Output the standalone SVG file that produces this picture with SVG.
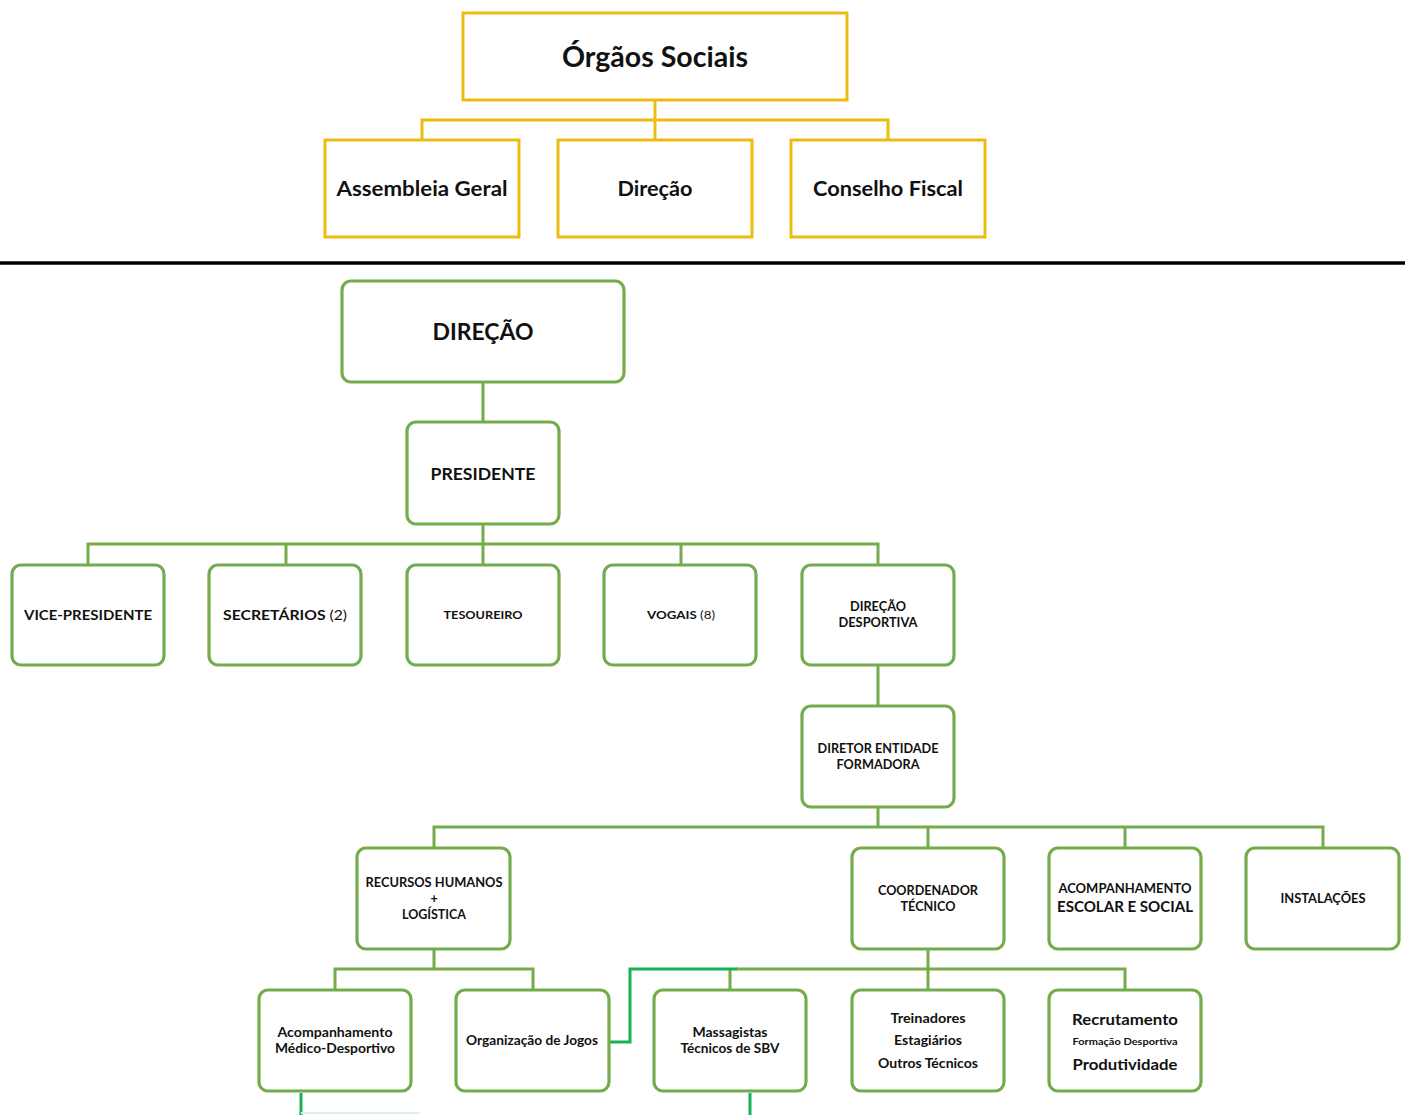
<svg xmlns="http://www.w3.org/2000/svg" width="1405" height="1115" viewBox="0 0 1405 1115">
<style>
.y{fill:#fff;stroke:#EDBC13;stroke-width:3}
.g{fill:#fff;stroke:#74AC4C;stroke-width:3.2}
.cy{fill:none;stroke:#EDBC13;stroke-width:3}
.cg{fill:none;stroke:#74AC4C;stroke-width:3}
.cb{fill:none;stroke:#14B155;stroke-width:3}
text{font-family:Lato,"Liberation Sans",sans-serif;font-weight:bold;fill:#111;text-anchor:middle;dominant-baseline:central}
</style>
<rect x="0" y="0" width="1405" height="1115" fill="#fff"/>
<g id="connectors">
<path class="cy" d="M655 100V120M422 140V120H888V140M655 120V140"/>
<path class="cg" d="M483 382V422M483 524V565M88 565V544H878V565M286 544V565M681 544V565"/>
<path class="cg" d="M878 665V706M878 807V827M434 848V827H1323V848M928 827V848M1125 827V848"/>
<path class="cg" d="M434 949V969M335 990V969H533V990"/>
<path class="cg" d="M928 949V990M736 969H1125V990M730 969V990"/>
<path class="cb" d="M598 1042H630V969H737"/>
<path class="cb" d="M301 1093V1115M750 1093V1115"/>
<path d="M301 1113H420" stroke="#DDF2E2" stroke-width="2" fill="none"/>
</g>
<line x1="0" y1="263" x2="1405" y2="263" stroke="#000" stroke-width="3.5"/>
<g id="orgaos-sociais"><rect class="y" x="463" y="13" width="384" height="87"/><text x="655" y="56" font-size="28" textLength="186" lengthAdjust="spacingAndGlyphs">Órgãos Sociais</text></g>
<g id="assembleia-geral"><rect class="y" x="325" y="140" width="194" height="97"/><text x="422" y="187" font-size="21" textLength="171" lengthAdjust="spacingAndGlyphs">Assembleia Geral</text></g>
<g id="direcao-os"><rect class="y" x="558" y="140" width="194" height="97"/><text x="655" y="187" font-size="21" textLength="75" lengthAdjust="spacingAndGlyphs">Direção</text></g>
<g id="conselho-fiscal"><rect class="y" x="791" y="140" width="194" height="97"/><text x="888" y="187" font-size="21" textLength="150" lengthAdjust="spacingAndGlyphs">Conselho Fiscal</text></g>

<g id="direcao"><rect class="g" x="342" y="281" width="282" height="101" rx="9"/><text x="483" y="331" font-size="23" textLength="101" lengthAdjust="spacingAndGlyphs">DIREÇÃO</text></g>
<g id="presidente"><rect class="g" x="407" y="422" width="152" height="102" rx="9"/><text x="483" y="473" font-size="17" textLength="105" lengthAdjust="spacingAndGlyphs">PRESIDENTE</text></g>
<g id="vice-presidente"><rect class="g" x="12" y="565" width="152" height="100" rx="9"/><text x="88" y="614" font-size="14" textLength="128" lengthAdjust="spacingAndGlyphs">VICE-PRESIDENTE</text></g>
<g id="secretarios"><rect class="g" x="209" y="565" width="152" height="100" rx="9"/><text x="285" y="614" font-size="14" textLength="124" lengthAdjust="spacingAndGlyphs">SECRETÁRIOS <tspan font-weight="normal">(2)</tspan></text></g>
<g id="tesoureiro"><rect class="g" x="407" y="565" width="152" height="100" rx="9"/><text x="483" y="614" font-size="11" textLength="79" lengthAdjust="spacingAndGlyphs">TESOUREIRO</text></g>
<g id="vogais"><rect class="g" x="604" y="565" width="152" height="100" rx="9"/><text x="681" y="614" font-size="12" textLength="68" lengthAdjust="spacingAndGlyphs">VOGAIS <tspan font-weight="normal">(8)</tspan></text></g>
<g id="direcao-desportiva"><rect class="g" x="802" y="565" width="152" height="100" rx="9"/><text x="878" y="606" font-size="12.5" textLength="56" lengthAdjust="spacingAndGlyphs">DIREÇÃO</text><text x="878" y="622" font-size="12.5" textLength="79" lengthAdjust="spacingAndGlyphs">DESPORTIVA</text></g>
<g id="diretor-entidade"><rect class="g" x="802" y="706" width="152" height="101" rx="9"/><text x="878" y="748" font-size="12.5" textLength="121" lengthAdjust="spacingAndGlyphs">DIRETOR ENTIDADE</text><text x="878" y="764" font-size="12.5" textLength="83" lengthAdjust="spacingAndGlyphs">FORMADORA</text></g>

<g id="recursos-humanos"><rect class="g" x="357" y="848" width="153" height="101" rx="9"/><text x="434" y="882" font-size="12.5" textLength="137" lengthAdjust="spacingAndGlyphs">RECURSOS HUMANOS</text><text x="434" y="898" font-size="12.5">+</text><text x="434" y="914" font-size="12.5" textLength="64" lengthAdjust="spacingAndGlyphs">LOGÍSTICA</text></g>
<g id="coordenador-tecnico"><rect class="g" x="852" y="848" width="152" height="101" rx="9"/><text x="928" y="890" font-size="12.5" textLength="100" lengthAdjust="spacingAndGlyphs">COORDENADOR</text><text x="928" y="906" font-size="12.5" textLength="55" lengthAdjust="spacingAndGlyphs">TÉCNICO</text></g>
<g id="acompanhamento-escolar"><rect class="g" x="1049" y="848" width="152" height="101" rx="9"/><text x="1125" y="888" font-size="13" textLength="133" lengthAdjust="spacingAndGlyphs">ACOMPANHAMENTO</text><text x="1125" y="906" font-size="14.5" textLength="136" lengthAdjust="spacingAndGlyphs">ESCOLAR E SOCIAL</text></g>
<g id="instalacoes"><rect class="g" x="1246" y="848" width="153" height="101" rx="9"/><text x="1323" y="898" font-size="13" textLength="85" lengthAdjust="spacingAndGlyphs">INSTALAÇÕES</text></g>

<g id="acompanhamento-medico"><rect class="g" x="259" y="990" width="152" height="101" rx="9"/><text x="335" y="1032" font-size="12.5" textLength="115" lengthAdjust="spacingAndGlyphs">Acompanhamento</text><text x="335" y="1048" font-size="13" textLength="120" lengthAdjust="spacingAndGlyphs">Médico-Desportivo</text></g>
<g id="organizacao-jogos"><rect class="g" x="456" y="990" width="153" height="101" rx="9"/><text x="532" y="1040" font-size="13.5" textLength="132" lengthAdjust="spacingAndGlyphs">Organização de Jogos</text></g>
<g id="massagistas"><rect class="g" x="654" y="990" width="152" height="101" rx="9"/><text x="730" y="1032" font-size="12.5" textLength="75" lengthAdjust="spacingAndGlyphs">Massagistas</text><text x="730" y="1048" font-size="13" textLength="99" lengthAdjust="spacingAndGlyphs">Técnicos de SBV</text></g>
<g id="treinadores"><rect class="g" x="852" y="990" width="152" height="101" rx="9"/><text x="928" y="1018" font-size="13" textLength="75" lengthAdjust="spacingAndGlyphs">Treinadores</text><text x="928" y="1040" font-size="13" textLength="68" lengthAdjust="spacingAndGlyphs">Estagiários</text><text x="928" y="1063" font-size="13" textLength="100" lengthAdjust="spacingAndGlyphs">Outros Técnicos</text></g>
<g id="recrutamento"><rect class="g" x="1049" y="990" width="152" height="101" rx="9"/><text x="1125" y="1018" font-size="16" textLength="106" lengthAdjust="spacingAndGlyphs">Recrutamento</text><text x="1125" y="1041" font-size="9" textLength="105" lengthAdjust="spacingAndGlyphs">Formação Desportiva</text><text x="1125" y="1063" font-size="16" textLength="105" lengthAdjust="spacingAndGlyphs">Produtividade</text></g>
</svg>
